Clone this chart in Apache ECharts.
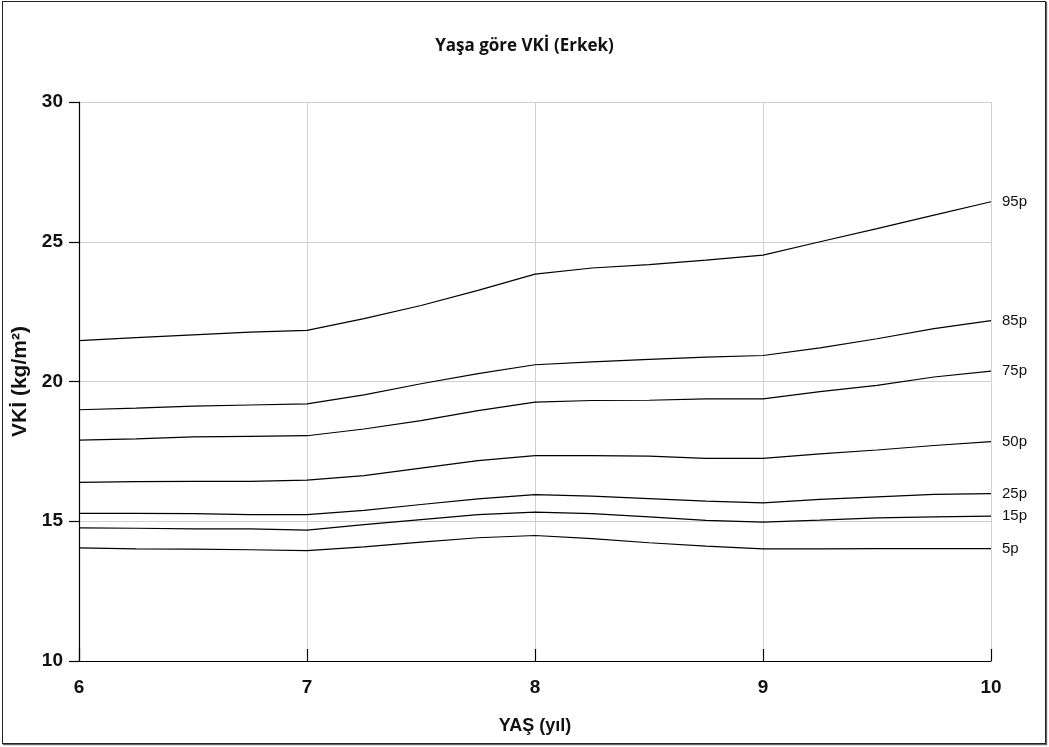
<!DOCTYPE html>
<html>
<head>
<meta charset="utf-8">
<script src="https://cdn.jsdelivr.net/npm/echarts@6/dist/echarts.min.js"></script>
<style>
  html, body { margin: 0; padding: 0; background: #fff; }
  #frame {
    position: absolute; left: 2px; top: 1px; width: 1042px; height: 741px;
    border: 1px solid #222; box-shadow: 1px 1px 1px #666;
  }
  #chart { position: absolute; left: -3px; top: -2px; width: 1049px; height: 747px; }
</style>
</head>
<body>
<div id="frame"><div id="chart"></div></div>
<script>
// Age in years (quarterly steps)
const ages = [6, 6.25, 6.5, 6.75, 7, 7.25, 7.5, 7.75, 8, 8.25, 8.5, 8.75, 9, 9.25, 9.5, 9.75, 10];

// BMI percentile curves (kg/m²), boys
const p95 = [21.46, 21.57, 21.67, 21.77, 21.83, 22.25, 22.72, 23.26, 23.84, 24.06, 24.18, 24.34, 24.52, 25.00, 25.47, 25.95, 26.43];
const p85 = [18.99, 19.05, 19.12, 19.16, 19.20, 19.52, 19.92, 20.28, 20.60, 20.70, 20.79, 20.87, 20.93, 21.20, 21.53, 21.89, 22.18];
const p75 = [17.90, 17.95, 18.02, 18.04, 18.06, 18.30, 18.60, 18.96, 19.26, 19.32, 19.33, 19.38, 19.38, 19.64, 19.86, 20.16, 20.37];
const p50 = [16.39, 16.42, 16.43, 16.43, 16.47, 16.63, 16.90, 17.17, 17.35, 17.35, 17.33, 17.25, 17.25, 17.41, 17.55, 17.71, 17.85];
const p25 = [15.28, 15.28, 15.27, 15.24, 15.24, 15.39, 15.60, 15.80, 15.95, 15.90, 15.81, 15.72, 15.66, 15.78, 15.87, 15.96, 15.99];
const p15 = [14.76, 14.75, 14.73, 14.73, 14.68, 14.88, 15.06, 15.24, 15.33, 15.27, 15.16, 15.03, 14.97, 15.04, 15.12, 15.16, 15.18];
const p5  = [14.05, 14.01, 14.00, 13.98, 13.95, 14.08, 14.25, 14.41, 14.49, 14.38, 14.23, 14.11, 14.01, 14.01, 14.02, 14.02, 14.02];

const curves = [
  { name: '95p', values: p95 },
  { name: '85p', values: p85 },
  { name: '75p', values: p75 },
  { name: '50p', values: p50 },
  { name: '25p', values: p25 },
  { name: '15p', values: p15 },
  { name: '5p',  values: p5 }
];

const boldFont = '"Liberation Sans Narrow", "Arial Narrow", "Liberation Sans", Arial, sans-serif';

const chart = echarts.init(document.getElementById('chart'), null, { renderer: 'canvas' });

chart.setOption({
  animation: false,
  backgroundColor: 'transparent',
  title: {
    text: 'Yaşa göre VKİ (Erkek)',
    left: 'center',
    top: 33,
    textStyle: { fontFamily: '"Open Sans", "DejaVu Sans", sans-serif', fontWeight: 'bold', fontSize: 17, color: '#111' }
  },
  grid: { left: 79, right: 58, top: 102, bottom: 86, containLabel: false },
  xAxis: {
    type: 'value',
    min: 6, max: 10, interval: 1,
    name: 'YAŞ (yıl)',
    nameLocation: 'middle',
    nameGap: 56,
    nameTextStyle: { fontFamily: boldFont, fontWeight: 'bold', fontSize: 18, color: '#111' },
    axisLine: { lineStyle: { color: '#000', width: 1.2 } },
    axisTick: { show: true, inside: true, length: 12, lineStyle: { color: '#000', width: 1.2 } },
    axisLabel: { fontFamily: boldFont, fontWeight: 'bold', fontSize: 19, color: '#111', margin: 17 },
    splitLine: { show: true, lineStyle: { color: '#d0d0d0', width: 1 } }
  },
  yAxis: {
    type: 'value',
    min: 10, max: 30, interval: 5,
    name: 'VKİ (kg/m²)',
    nameLocation: 'middle',
    nameGap: 47,
    nameTextStyle: { fontFamily: boldFont, fontWeight: 'bold', fontSize: 21, color: '#111' },
    axisLine: { show: true, lineStyle: { color: '#000', width: 1.2 } },
    axisTick: { show: true, length: 10, lineStyle: { color: '#000', width: 1.2 } },
    axisLabel: { fontFamily: boldFont, fontWeight: 'bold', fontSize: 19, color: '#111', margin: 16 },
    splitLine: { show: true, lineStyle: { color: '#d0d0d0', width: 1 } }
  },
  series: curves.map(c => ({
    name: c.name,
    type: 'line',
    data: ages.map((a, i) => [a, c.values[i]]),
    showSymbol: false,
    symbol: 'none',
    smooth: false,
    lineStyle: { color: '#000', width: 1.2 },
    endLabel: {
      show: true,
      formatter: c.name,
      distance: 11,
      color: '#111',
      fontFamily: '"Liberation Sans", Arial, sans-serif',
      fontSize: 15
    },
    emphasis: { disabled: true }
  }))
});
</script>
</body>
</html>
